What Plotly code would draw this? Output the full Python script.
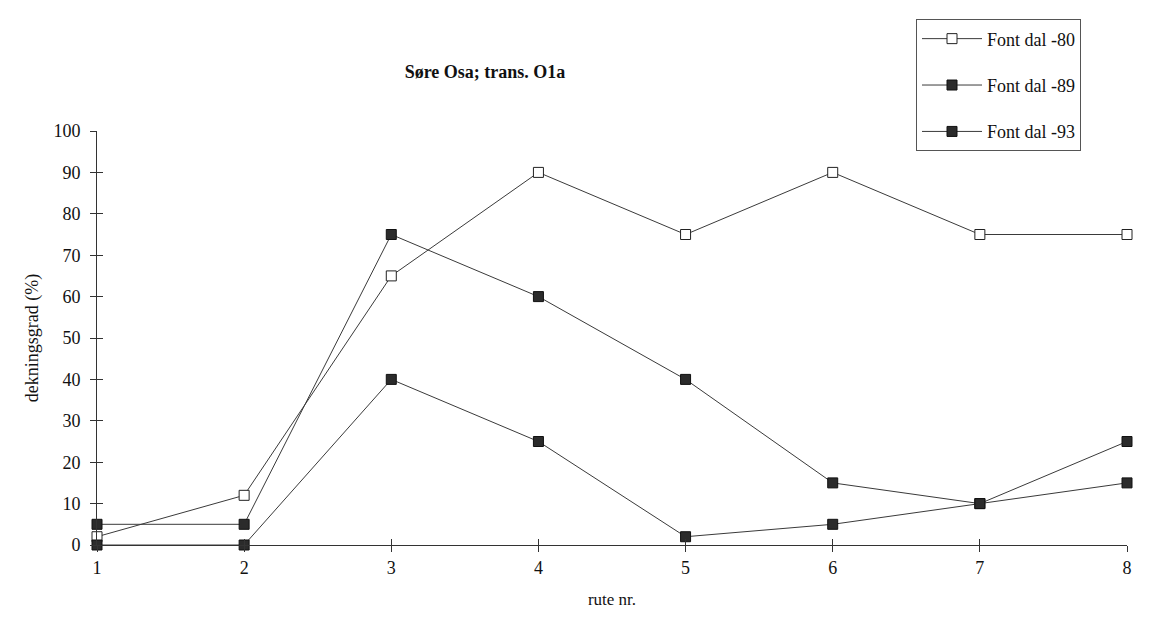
import plotly.graph_objects as go

rute = [1, 2, 3, 4, 5, 6, 7, 8]
font_dal_80 = [2, 12, 65, 90, 75, 90, 75, 75]
font_dal_89 = [5, 5, 75, 60, 40, 15, 10, 25]
font_dal_93 = [0, 0, 40, 25, 2, 5, 10, 15]
series_names = ["Font dal -80", "Font dal -89", "Font dal -93"]
y_ticks = [0, 10, 20, 30, 40, 50, 60, 70, 80, 90, 100]

FONT = "Liberation Serif, DejaVu Serif, serif"
LINE = "#3a3a3a"

fig = go.Figure()
styles = [
    dict(color="white", line=dict(color="#222", width=1)),
    dict(color="#2b2b2b", line=dict(color="#111", width=1)),
    dict(color="#2b2b2b", line=dict(color="#111", width=1)),
]
for name, vals, mk, grp in zip(series_names, [font_dal_80, font_dal_89, font_dal_93], styles, ["a", "b", "c"]):
    fig.add_trace(go.Scatter(
        x=rute, y=vals, name=name, mode="lines+markers",
        line=dict(color=LINE, width=1),
        marker=dict(symbol="square", size=10, **mk),
        cliponaxis=False, legendgroup=grp,
    ))

axis_common = dict(
    showgrid=False, zeroline=False, showline=True, linecolor="#333", linewidth=1,
    ticks="outside", ticklen=6, tickcolor="#333", tickwidth=1,
    tickfont=dict(family=FONT, size=18, color="#111"),
)

W, H = 1152, 613
L, T = 89, 114
R = W - (1127 - 8)
B = H - (545 - 8)
PW = W - L - R
PH = H - T - B

fig.update_layout(
    width=W, height=H,
    font=dict(family=FONT),
    margin=dict(l=L, r=R, t=T, b=B),
    paper_bgcolor="white", plot_bgcolor="white",
    title=dict(text="<b>Søre Osa; trans. O1a</b>", x=(485 - 8) / W, xref="container", xanchor="center",
               y=1 - (72 - 8) / H, yanchor="middle",
               font=dict(family=FONT, size=18, color="#111")),
    xaxis=dict(range=[1, 8], tickvals=rute, **axis_common,
               title=dict(text="rute nr.", font=dict(family=FONT, size=17, color="#111"), standoff=16)),
    yaxis=dict(range=[0, 100], tickvals=y_ticks, ticklabelstandoff=6, **axis_common,
               title=dict(text="dekningsgrad (%)", font=dict(family=FONT, size=18, color="#111"), standoff=10)),
    xaxis2=dict(overlaying="x", range=[1, 8], tickvals=rute, ticks="inside", ticklen=6,
                tickcolor="#333", showticklabels=False, showgrid=False, zeroline=False, showline=False),
    yaxis2=dict(overlaying="y", range=[0, 100], tickvals=y_ticks, ticks="inside", ticklen=6,
                tickcolor="#333", showticklabels=False, showgrid=False, zeroline=False, showline=False),
    legend=dict(x=(916 - 8 - L) / PW, xanchor="left", y=1 + (114 - 0) / PH, yanchor="top",
                bordercolor="#555", borderwidth=1, bgcolor="white",
                font=dict(family=FONT, size=18, color="#111"),
                tracegroupgap=20, itemwidth=60, entrywidth=200,
                traceorder="grouped"),
    showlegend=True,
)
fig.add_trace(go.Scatter(x=[1], y=[0], xaxis="x2", yaxis="y2", mode="markers",
                         marker=dict(opacity=0), showlegend=False, hoverinfo="skip"))

fig.write_html("out.html")
